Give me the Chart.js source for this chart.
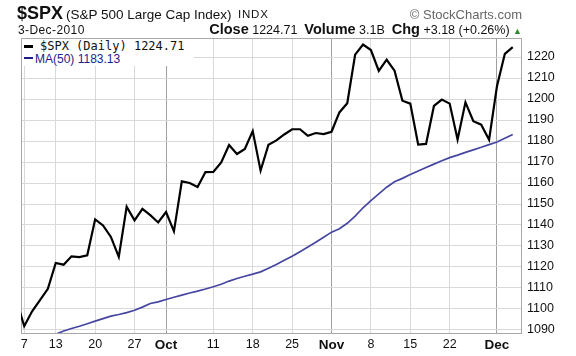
<!DOCTYPE html>
<html>
<head>
<meta charset="utf-8">
<script src="https://cdn.jsdelivr.net/npm/chart.js@4/dist/chart.umd.min.js"></script>
<style>
  html, body { margin:0; padding:0; background:#fff; }
  #wrap { position:relative; width:576px; height:356px; overflow:hidden; background:#fff; }
  canvas { position:absolute; left:0; top:0; }
  .t { position:absolute; white-space:nowrap; line-height:1; font-family:"Liberation Sans", Arial, sans-serif; color:#111; }
  .b { font-weight:bold; }
  #legend { position:absolute; left:22px; top:39px; width:172px; height:27px; background:#fff; }
</style>
</head>
<body>
<div id="wrap">
  <canvas id="c" width="576" height="356"></canvas>
  <div class="t b" style="left:17px; top:4px; font-size:18px;">$SPX</div>
  <div class="t" style="left:66px; top:8px; font-size:13.5px;">(S&amp;P 500 Large Cap Index)</div>
  <div class="t" style="left:238px; top:9px; font-size:11.5px; letter-spacing:0.8px;">INDX</div>
  <div class="t" style="right:54px; top:8px; font-size:13px; color:#666;">&#169; StockCharts.com</div>
  <div class="t" style="left:18px; top:24px; font-size:12px; letter-spacing:0.4px;">3-Dec-2010</div>
  <div class="t" style="right:54px; top:22px; font-size:12.5px;"><span class="b" style="font-size:14.5px;">Close</span> 1224.71&nbsp; <span class="b" style="font-size:14.5px;">Volume</span> 3.1B&nbsp; <span class="b" style="font-size:14.5px;">Chg</span> +3.18 (+0.26%) <span style="color:#2e8b2e; font-size:9px;">&#9650;</span></div>
  <div id="legend">
    <div style="position:absolute; left:2px; top:6px; width:9px; height:3px; background:#000;"></div>
    <div class="t" style="left:18px; top:1px; font-size:12px; font-family:'DejaVu Sans Mono', monospace;">$SPX (Daily) 1224.71</div>
    <div style="position:absolute; left:2px; top:18px; width:9px; height:2px; background:#1c1c8c;"></div>
    <div class="t" style="left:13px; top:14px; font-size:12px; color:#1c1c8c;">MA(50) 1183.13</div>
  </div>
</div>
<script>
// Trading days, first one (Sep 3) sits just left of the visible range
const dates = ['Sep 3','Sep 7','Sep 8','Sep 9','Sep 10','Sep 13','Sep 14','Sep 15','Sep 16','Sep 17',
  'Sep 20','Sep 21','Sep 22','Sep 23','Sep 24','Sep 27','Sep 28','Sep 29','Sep 30','Oct 1',
  'Oct 4','Oct 5','Oct 6','Oct 7','Oct 8','Oct 11','Oct 12','Oct 13','Oct 14','Oct 15',
  'Oct 18','Oct 19','Oct 20','Oct 21','Oct 22','Oct 25','Oct 26','Oct 27','Oct 28','Oct 29',
  'Nov 1','Nov 2','Nov 3','Nov 4','Nov 5','Nov 8','Nov 9','Nov 10','Nov 11','Nov 12',
  'Nov 15','Nov 16','Nov 17','Nov 18','Nov 19','Nov 22','Nov 23','Nov 24','Nov 26','Nov 29',
  'Nov 30','Dec 1','Dec 2','Dec 3'];

const spxClose = [1104.5,1091.8,1098.9,1104.2,1109.6,1121.9,1121.1,1125.1,1124.7,1125.6,
  1142.7,1139.8,1134.3,1124.8,1148.7,1142.2,1147.7,1144.7,1141.2,1146.2,
  1137.0,1160.8,1160.0,1158.1,1165.2,1165.3,1169.8,1178.1,1173.8,1176.2,
  1184.7,1165.9,1178.2,1180.3,1183.1,1185.6,1185.6,1182.5,1183.8,1183.3,
  1184.4,1193.6,1198.0,1221.1,1225.9,1223.3,1213.4,1218.7,1213.5,1199.2,
  1197.8,1178.3,1178.6,1196.7,1199.7,1197.8,1180.7,1198.4,1189.4,1187.8,
  1180.6,1206.1,1221.5,1224.71];

const ma50 = [null,null,null,null,1086.0,1088.0,1089.5,1090.7,1091.8,1093.0,
  1094.2,1095.4,1096.6,1097.4,1098.3,1099.4,1100.9,1102.6,1103.4,1104.5,
  1105.6,1106.6,1107.6,1108.5,1109.5,1110.6,1111.8,1113.3,1114.5,1115.6,
  1116.6,1117.7,1119.4,1121.2,1123.2,1125.1,1127.3,1129.5,1131.8,1134.2,
  1136.6,1138.2,1140.8,1144.2,1148.2,1151.6,1154.8,1158.0,1160.6,1162.2,
  1164.0,1165.7,1167.4,1169.0,1170.6,1172.1,1173.3,1174.6,1175.8,1177.0,
  1178.3,1179.5,1181.3,1183.13];

const xTickDates = ['Sep 7','Sep 13','Sep 20','Sep 27','Oct 1','Oct 11','Oct 18','Oct 25','Nov 1','Nov 8','Nov 15','Nov 22','Dec 1'];
const xTickLabels = ['7','13','20','27','Oct','11','18','25','Nov','8','15','22','Dec'];
const monthLabels = ['Oct','Nov','Dec'];
const yTicks = [1090,1100,1110,1120,1130,1140,1150,1160,1170,1180,1190,1200,1210,1220];

const pos = (d) => dates.indexOf(d) - 1;  // Sep 7 is position 0
const xTickPos = xTickDates.map(pos);
const spxPts = spxClose.map((v, i) => ({x: i - 1, y: v}));
const maPts = ma50.map((v, i) => ({x: i - 1, y: v}));

const isMonthTick = (v) => { const k = xTickPos.indexOf(v); return k >= 0 && monthLabels.includes(xTickLabels[k]); };

const frame = {
  id: 'frame',
  beforeDatasetsDraw(chart) {
    const a = chart.chartArea, ctx = chart.ctx;
    ctx.save();
    ctx.strokeStyle = '#a8a8a8';
    ctx.lineWidth = 1;
    ctx.strokeRect(Math.round(a.left) + 0.5, Math.round(a.top) + 0.5, Math.round(a.right - a.left), Math.round(a.bottom - a.top));
    ctx.restore();
  }
};

new Chart(document.getElementById('c'), {
  type: 'line',
  data: {
    datasets: [
      { data: spxPts, borderColor: '#000', borderWidth: 2.2, pointRadius: 0, tension: 0, clip: 0 },
      { data: maPts, borderColor: '#4646a2', borderWidth: 1.7, pointRadius: 0, tension: 0, clip: 0, spanGaps: false }
    ]
  },
  options: {
    responsive: false,
    animation: false,
    events: [],
    layout: { padding: { top: 38, left: 21, right: 0, bottom: 0 } },
    plugins: { legend: { display: false }, tooltip: { enabled: false }, title: { display: false } },
    scales: {
      x: {
        type: 'linear',
        min: -0.41, max: 63.05,
        afterBuildTicks: (s) => { s.ticks = xTickPos.map(v => ({ value: v })); },
        afterFit: (s) => { s.height = 23; },
        ticks: {
          autoSkip: false, maxRotation: 0, padding: 4, color: '#111',
          font: (c) => ({ family: 'Liberation Sans', size: c.tick && isMonthTick(c.tick.value) ? 13.5 : 12.5, weight: c.tick && isMonthTick(c.tick.value) ? 'bold' : 'normal' }),
          callback: (v) => xTickLabels[xTickPos.indexOf(v)]
        },
        grid: {
          drawTicks: false,
          color: (c) => c.tick && isMonthTick(c.tick.value) ? '#a0a0a0' : '#d9d9d9',
          lineWidth: 1
        },
        border: { display: false }
      },
      y: {
        type: 'linear',
        position: 'right',
        min: 1088.57, max: 1229.05,
        afterBuildTicks: (s) => { s.ticks = yTicks.map(v => ({ value: v })); },
        afterFit: (s) => { s.width = 55; },
        ticks: { padding: 6, color: '#111', font: { family: 'Liberation Sans', size: 12.5 }, callback: (v) => String(v) },
        grid: { drawTicks: false, color: '#d9d9d9', lineWidth: 1 },
        border: { display: false }
      }
    }
  },
  plugins: [frame]
});
</script>
</body>
</html>
